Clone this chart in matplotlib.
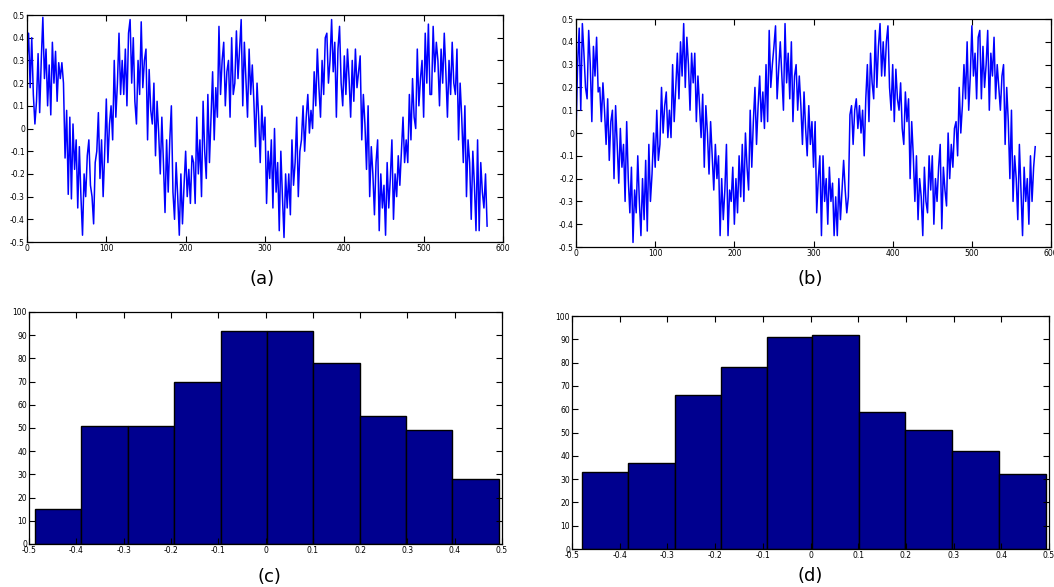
import numpy as np
from matplotlib import pyplot as plt

plt.rcParams["axes.unicode_minus"] = False

# Signal (a) : une valeur tous les 2 échantillons
signal_a = [
    0.30, 0.42, 0.18, 0.40, 0.15, 0.02, 0.12, 0.33, 0.07, 0.30, 0.49, 0.22, 0.35, 0.10, 0.28,
    0.06, 0.38, 0.20, 0.34, 0.12, 0.29, 0.22, 0.29, 0.20, -0.13, 0.08, -0.29, 0.05, -0.31, 0.02,
    -0.18, -0.05, -0.35, -0.08, -0.30, -0.47, -0.20, -0.30, -0.12, -0.05, -0.25, -0.30, -0.42, -0.15, -0.10,
    0.07, -0.22, -0.05, -0.30, -0.10, 0.13, -0.15, 0.02, 0.10, -0.05, 0.30, 0.05, 0.20, 0.42, 0.15,
    0.30, 0.15, 0.35, 0.10, 0.42, 0.48, 0.20, 0.40, 0.12, 0.02, 0.30, 0.15, 0.47, 0.18, 0.30,
    0.35, -0.05, 0.26, 0.08, 0.02, 0.20, -0.12, 0.12, -0.02, -0.20, 0.05, -0.15, -0.37, -0.05, -0.28,
    -0.05, 0.10, -0.28, -0.40, -0.15, -0.30, -0.47, -0.20, -0.42, -0.25, -0.10, -0.30, -0.18, -0.33, -0.12,
    -0.15, -0.33, 0.05, -0.20, -0.05, -0.30, 0.12, -0.10, -0.22, 0.15, -0.15, 0.05, 0.25, -0.05, 0.18,
    0.05, 0.45, 0.15, 0.30, 0.38, 0.10, 0.25, 0.30, 0.05, 0.40, 0.15, 0.20, 0.43, 0.22, 0.35,
    0.48, 0.10, 0.38, 0.22, 0.05, 0.35, 0.15, 0.28, 0.12, -0.08, 0.20, 0.05, -0.15, 0.10, -0.05,
    0.05, -0.33, -0.10, -0.22, -0.05, -0.35, 0.00, -0.28, -0.15, -0.45, -0.10, -0.30, -0.48, -0.20, -0.35,
    -0.20, -0.38, -0.05, -0.25, -0.15, 0.05, -0.30, -0.10, -0.05, 0.10, -0.10, 0.05, 0.15, -0.02, 0.08,
    0.00, 0.25, 0.10, 0.35, 0.18, 0.05, 0.30, 0.15, 0.40, 0.42, 0.20, 0.30, 0.48, 0.25, 0.38,
    0.05, 0.35, 0.45, 0.20, 0.10, 0.32, 0.15, 0.35, 0.22, 0.05, 0.30, 0.12, 0.35, 0.18, 0.25,
    0.32, -0.05, 0.15, 0.02, -0.18, 0.10, -0.30, -0.08, -0.20, -0.38, -0.15, -0.05, -0.45, -0.20, -0.35,
    -0.25, -0.47, -0.15, -0.35, -0.22, -0.05, -0.40, -0.20, -0.30, -0.12, -0.25, -0.10, 0.05, -0.15, -0.05,
    -0.15, 0.15, -0.05, 0.22, 0.05, 0.00, 0.35, 0.10, 0.22, 0.30, 0.05, 0.42, 0.20, 0.46, 0.15,
    0.15, 0.45, 0.25, 0.38, 0.30, 0.10, 0.35, 0.20, 0.42, 0.25, 0.05, 0.30, 0.15, 0.38, 0.20,
    0.15, 0.35, -0.05, 0.20, 0.05, -0.15, 0.10, -0.30, -0.05, -0.15, -0.40, -0.10, -0.25, -0.45, -0.05,
    -0.45, -0.15, -0.28, -0.35, -0.20, -0.43,
]

# Signal (b)
signal_b = [
    0.00, 0.30, 0.46, 0.10, 0.48, 0.35, 0.20, 0.15, 0.45, 0.30, 0.05, 0.38, 0.25, 0.42, 0.18,
    0.20, 0.05, 0.22, 0.10, -0.05, 0.15, -0.12, 0.05, 0.10, -0.20, 0.12, -0.05, -0.22, 0.02, -0.15,
    -0.05, -0.30, 0.05, -0.20, -0.35, -0.15, -0.48, -0.25, -0.35, -0.10, -0.30, -0.45, -0.20, -0.38, -0.12,
    -0.43, -0.05, -0.30, -0.18, 0.00, -0.15, 0.10, -0.12, -0.05, 0.20, 0.00, 0.12, 0.18, -0.02, 0.10,
    -0.02, 0.30, 0.05, 0.20, 0.35, 0.15, 0.40, 0.25, 0.48, 0.20, 0.42, 0.30, 0.10, 0.35, 0.22,
    0.35, 0.05, 0.25, 0.12, -0.02, 0.17, -0.15, 0.12, 0.00, -0.18, 0.05, -0.10, -0.25, -0.05, -0.20,
    -0.10, -0.45, -0.20, -0.38, -0.25, -0.05, -0.45, -0.25, -0.30, -0.15, -0.40, -0.20, -0.35, -0.10, -0.28,
    -0.05, -0.30, 0.00, -0.15, -0.25, 0.10, -0.15, 0.05, 0.20, -0.05, 0.12, 0.25, 0.05, 0.18, 0.02,
    0.30, 0.05, 0.45, 0.20, 0.30, 0.38, 0.47, 0.15, 0.28, 0.40, 0.25, 0.10, 0.48, 0.22, 0.35,
    0.15, 0.40, 0.05, 0.25, 0.30, 0.10, 0.25, 0.12, -0.05, 0.18, 0.02, -0.10, 0.12, -0.05, 0.05,
    -0.15, 0.05, -0.35, -0.20, -0.10, -0.45, -0.10, -0.30, -0.20, -0.40, -0.15, -0.30, -0.22, -0.45, -0.28,
    -0.45, -0.20, -0.38, -0.25, -0.12, -0.25, -0.35, -0.28, 0.08, 0.12, -0.05, 0.10, 0.15, 0.02, 0.12,
    0.00, 0.10, -0.10, 0.15, 0.30, 0.05, 0.35, 0.22, 0.15, 0.45, 0.20, 0.38, 0.48, 0.25, 0.40,
    0.25, 0.40, 0.47, 0.20, 0.10, 0.30, 0.05, 0.28, 0.15, 0.10, 0.22, 0.02, -0.05, 0.18, 0.05,
    0.15, -0.20, 0.05, -0.10, -0.30, -0.10, -0.38, -0.20, -0.28, -0.45, -0.15, -0.30, -0.35, -0.10, -0.25,
    -0.10, -0.40, -0.20, -0.30, -0.15, -0.05, -0.42, -0.15, -0.25, -0.32, 0.00, -0.20, -0.05, -0.15, 0.02,
    0.05, -0.10, 0.20, 0.00, 0.12, 0.30, 0.15, 0.40, 0.10, 0.25, 0.47, 0.25, 0.35, 0.15, 0.42,
    0.45, 0.15, 0.38, 0.20, 0.30, 0.45, 0.10, 0.35, 0.25, 0.42, 0.15, 0.30, 0.20, 0.10, 0.25,
    0.30, -0.05, 0.20, 0.05, -0.20, 0.10, -0.30, -0.10, -0.20, -0.38, -0.05, -0.25, -0.45, -0.15, -0.30,
    -0.20, -0.40, -0.10, -0.30, -0.15, -0.06,
]

# Histogrammes (c) et (d)
edges_c = [-0.487, -0.389, -0.291, -0.193, -0.095, 0.003, 0.101, 0.199, 0.297, 0.395, 0.493]
counts_c = [15, 51, 51, 70, 92, 92, 78, 55, 49, 28]
edges_d = [-0.480, -0.383, -0.285, -0.188, -0.091, 0.003, 0.101, 0.199, 0.297, 0.395, 0.493]
counts_d = [33, 37, 66, 78, 91, 92, 59, 51, 42, 32]


def fmt(v):
    s = f"{v:.1f}"
    return "0" if s in ("0.0", "-0.0") else s


def style_axes(ax):
    ax.tick_params(direction="in", top=True, right=True, length=4,
                   width=0.8, labelsize=5.5, pad=1.5)
    for sp in ax.spines.values():
        sp.set_linewidth(0.9)


fig = plt.figure(figsize=(10.54, 5.87), dpi=100)

ax_a = fig.add_axes([0.0256, 0.5877, 0.4516, 0.3867])
ax_b = fig.add_axes([0.5465, 0.5792, 0.4507, 0.3884])
for ax, sig in ((ax_a, signal_a), (ax_b, signal_b)):
    ax.plot(np.arange(0, 2 * len(sig), 2), sig, color="#0000ff", lw=1.1)
    ax.set_xlim(0, 600)
    ax.set_ylim(-0.5, 0.5)
    ax.set_xticks(np.arange(0, 601, 100))
    yt = np.round(np.arange(-0.5, 0.51, 0.1), 1)
    ax.set_yticks(yt)
    ax.set_yticklabels([fmt(v) for v in yt])
    style_axes(ax)

ax_c = fig.add_axes([0.0275, 0.0733, 0.4488, 0.3952])
ax_d = fig.add_axes([0.5427, 0.0647, 0.4526, 0.3969])
for ax, edges, counts in ((ax_c, edges_c, counts_c), (ax_d, edges_d, counts_d)):
    ax.bar(edges[:-1], counts, width=np.diff(edges), align="edge",
           color="#00008f", edgecolor="black", linewidth=1.0)
    ax.set_xlim(-0.5, 0.5)
    ax.set_ylim(0, 100)
    xt = np.round(np.arange(-0.5, 0.51, 0.1), 1)
    ax.set_xticks(xt)
    ax.set_xticklabels([fmt(v) for v in xt])
    ax.set_yticks(np.arange(0, 101, 10))
    style_axes(ax)

fig.text(0.2486, 0.5247, "(a)", ha="center", va="center", fontsize=13)
fig.text(0.7685, 0.5247, "(b)", ha="center", va="center", fontsize=13)
fig.text(0.256, 0.017, "(c)", ha="center", va="center", fontsize=13)
fig.text(0.7685, 0.0187, "(d)", ha="center", va="center", fontsize=13)

fig.savefig("out.png", dpi=100)
